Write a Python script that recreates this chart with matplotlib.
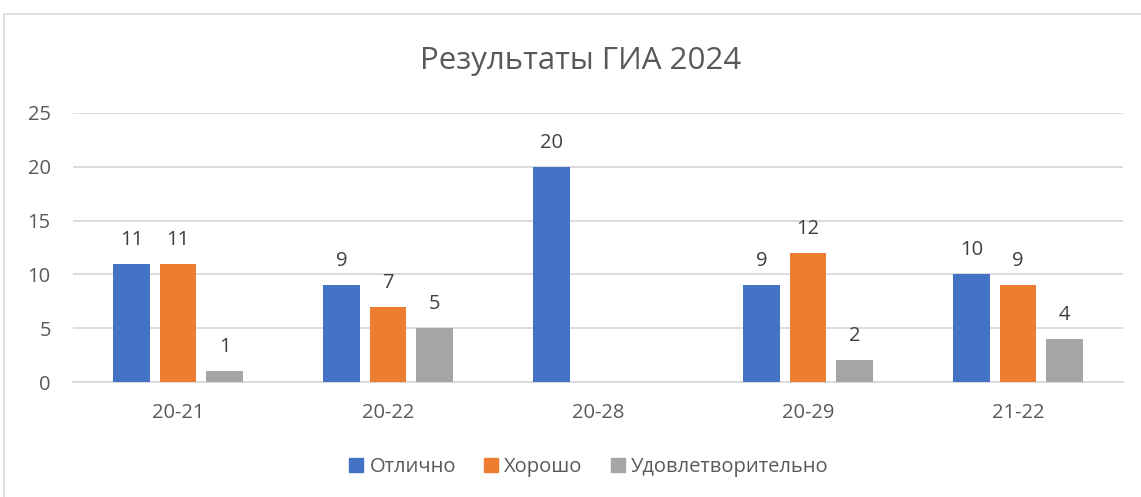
import numpy as np
import matplotlib
matplotlib.use("Agg")
import matplotlib.pyplot as plt
from matplotlib.patches import Rectangle
from matplotlib.lines import Line2D

categories = ["20-21", "20-22", "20-28", "20-29", "21-22"]
series_names = ["Отлично", "Хорошо", "Удовлетворительно"]
otlichno = [11, 9, 20, 9, 10]
khorosho = [11, 7, np.nan, 12, 9]
udovl = [1, 5, np.nan, 2, 4]
colors = ["#4472C4", "#ED7D31", "#A5A5A5"]
title = "Результаты ГИА 2024"
yticks = [0, 5, 10, 15, 20, 25]

W, H = 1141, 497
fig = plt.figure(figsize=(W / 100, H / 100), dpi=100)
plt.rcParams['font.family'] = ['Open Sans', 'DejaVu Sans']

FS = 14.5

# axes in pixel coords
left, right, top, bottom = 73, 1123, 113, 382
ax = fig.add_axes([left / W, 1 - bottom / H, (right - left) / W, (bottom - top) / H])

x = np.arange(len(categories))
bw = 0.174
step = 0.222
data = [otlichno, khorosho, udovl]
for i, (vals, c) in enumerate(zip(data, colors)):
    pos = x + (i - 1) * step
    v = np.array(vals, dtype=float)
    ax.bar(pos, np.nan_to_num(v), width=bw, color=c, zorder=3)
    for p, val in zip(pos, v):
        if not np.isnan(val):
            ax.annotate(f"{int(val)}", (p, val), xytext=(0, 24), textcoords="offset pixels",
                        ha="center", va="center", fontsize=FS, color="#404040")

ax.set_xlim(-0.5, len(categories) - 0.5)
ax.set_ylim(0, 25)
ax.set_yticks(yticks)
ax.set_xticks(x)
ax.set_xticklabels(categories)
ax.tick_params(axis="both", length=0, labelsize=FS, labelcolor="#595959")
ax.tick_params(axis="y", pad=16)
ax.tick_params(axis="x", pad=15)
ax.grid(axis="y", color="#D9D9D9", linewidth=1.3, zorder=0)
for s in ["top", "right", "left"]:
    ax.spines[s].set_visible(False)
ax.spines["bottom"].set_color("#D9D9D9")
ax.spines["bottom"].set_linewidth(1.3)

# title
fig.text(581 / W, 1 - 69 / H, title, ha="center", va="baseline", fontsize=22.5, color="#595959")

# chart border
border = Rectangle((4 / W, -0.1), 1.2, 1 - 14 / H + 0.1, transform=fig.transFigure,
                   fill=False, edgecolor="#D9D9D9", linewidth=1.2)
fig.add_artist(border)

handles = [Line2D([], [], marker="s", linestyle="none", markersize=9.5, markerfacecolor=c,
                  markeredgecolor=c) for c in colors]
fig.legend(handles, series_names, loc="center", bbox_to_anchor=(589 / W, 1 - 467 / H),
           ncol=3, frameon=False, fontsize=FS, labelcolor="#595959",
           handletextpad=0.3, columnspacing=1.4, handlelength=0.7)

fig.savefig("out.png", dpi=100)
